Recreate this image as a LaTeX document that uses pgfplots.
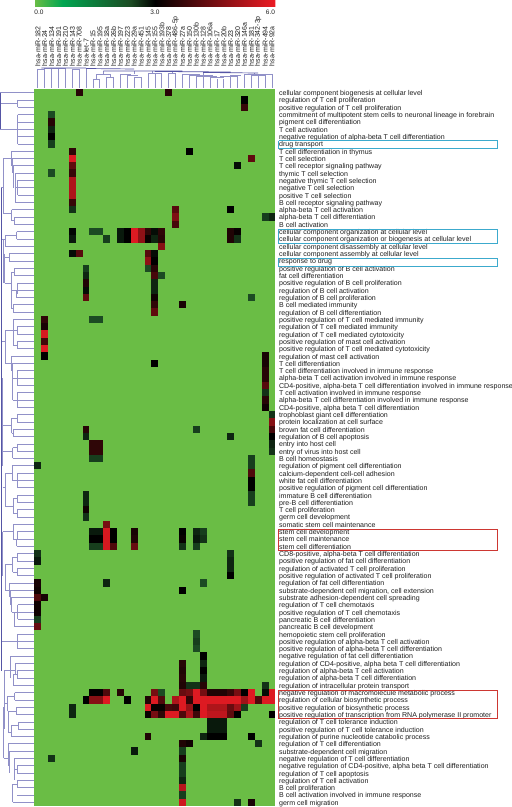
\documentclass[border=0pt]{standalone}
\usepackage{fontspec}
\setmainfont{Liberation Sans}
\usepackage{pgfplots}
\pgfplotsset{compat=1.18}
\definecolor{hmgreen}{RGB}{106,189,69}
\definecolor{dendl}{RGB}{145,145,200}
\definecolor{dendd}{RGB}{85,85,165}
\definecolor{boxc}{RGB}{60,170,205}
\definecolor{boxr}{RGB}{205,55,50}
\definecolor{txt}{RGB}{30,30,30}
\pgfdeclareplotmark{cell}{\pgfpathrectangle{\pgfpoint{-3.443pt}{-3.658pt}}{\pgfpoint{6.886pt}{7.316pt}}\pgfusepathqfill}
\begin{document}
\begin{tikzpicture}[x=1pt,y=1pt]
\useasboundingbox (0,0) rectangle (512,807);
% left dendrogram (x in px, y in rows)
\begin{axis}[at={(0pt,1pt)},anchor=south west,scale only axis,width=34.4pt,height=717pt,
  xmin=0,xmax=34.4,ymin=0.5,ymax=98.5,y dir=reverse,hide axis,clip=false,unbounded coords=jump]
\addplot[dendl,line width=0.7pt] coordinates {
(0,1)(34.4,1)(0,nan)
(17.5,2)(34.4,2)(0,nan)(17.5,3)(34.4,3)(0,nan)(17.5,2)(17.5,3)(0,nan)(0,2.5)(17.5,2.5)(0,nan)
(17.5,4)(34.4,4)(0,nan)(17.5,5)(34.4,5)(0,nan)(17.5,6)(34.4,6)(0,nan)(17.5,7)(34.4,7)(0,nan)(17.5,8)(34.4,8)(0,nan)(17.5,4)(17.5,8)(0,nan)(0,6)(17.5,6)(0,nan)
(11.7,9)(34.4,9)(0,nan)(11.7,9)(11.7,11)(0,nan)(3.3,10)(11.7,10)(0,nan)(12.3,10)(34.4,10)(0,nan)(12.3,10)(12.3,12)(0,nan)(13,11)(34.4,11)(0,nan)(13,11)(13,14)(0,nan)
(15.3,12)(34.4,12)(0,nan)(15.3,12)(15.3,16)(0,nan)(17.5,13)(34.4,13)(0,nan)(17.5,14)(34.4,14)(0,nan)(17.5,15)(34.4,15)(0,nan)(17.5,13)(17.5,15)(0,nan)(15.3,14)(17.5,14)(0,nan)(15.3,16)(34.4,16)(0,nan)
(3.3,10)(3.3,17.5)(0,nan)(3.3,17.5)(11.7,17.5)(0,nan)(11.7,17)(34.4,17)(0,nan)(11.7,17)(11.7,18.5)(0,nan)(14.3,18)(34.4,18)(0,nan)(14.3,19)(34.4,19)(0,nan)(14.3,18)(14.3,19)(0,nan)(11.7,18.5)(14.3,18.5)(0,nan)
(1,14)(3.3,14)(0,nan)
(16.7,20)(34.4,20)(0,nan)(16.7,21)(34.4,21)(0,nan)(16.7,20)(16.7,21)(0,nan)(5,20.5)(16.7,20.5)(0,nan)(5,20.5)(5,22)(0,nan)(5,22)(34.4,22)(0,nan)(1.7,21)(5,21)(0,nan)
(9.3,23)(34.4,23)(0,nan)(9.3,24)(34.4,24)(0,nan)(9.3,23)(9.3,24)(0,nan)(3.3,23.5)(9.3,23.5)(0,nan)(3.3,21)(3.3,27)(0,nan)
(14,25)(34.4,25)(0,nan)(14,26)(34.4,26)(0,nan)(14,25)(14,26)(0,nan)(11,25.5)(14,25.5)(0,nan)
(17.3,27)(34.4,27)(0,nan)(16,28)(34.4,28)(0,nan)(16,29)(34.4,29)(0,nan)(16,28)(16,29)(0,nan)(17,27)(17,28.5)(0,nan)(11,28)(17,28)(0,nan)(11,25.5)(11,30.5)(0,nan)(4.7,27)(11,27)(0,nan)(4.7,23)(4.7,27)(0,nan)
(13.3,30)(34.4,30)(0,nan)(13.3,31)(34.4,31)(0,nan)(13.3,30)(13.3,31)(0,nan)(11,30.5)(13.3,30.5)(0,nan)
(13.3,32)(34.4,32)(0,nan)(13.3,32)(13.3,35.5)(0,nan)(17.3,33)(34.4,33)(0,nan)(17.3,34)(34.4,34)(0,nan)(17.3,33)(17.3,34)(0,nan)(13.3,33.5)(17.3,33.5)(0,nan)(17.3,35)(34.4,35)(0,nan)(17.3,36)(34.4,36)(0,nan)(17.3,35)(17.3,36)(0,nan)(13.3,35.5)(17.3,35.5)(0,nan)(5,33.5)(13.3,33.5)(0,nan)(5,33.5)(5,38)(0,nan)(1.7,35)(5,35)(0,nan)
(11.7,37)(34.4,37)(0,nan)(11.7,37)(11.7,39)(0,nan)(12.7,38)(34.4,38)(0,nan)(12.7,38)(12.7,43)(0,nan)(17.3,39)(34.4,39)(0,nan)(17.3,40)(34.4,40)(0,nan)(17.3,41)(34.4,41)(0,nan)(17.3,39)(17.3,41)(0,nan)(12.7,40)(17.3,40)(0,nan)(17.3,42)(34.4,42)(0,nan)(17.3,43)(34.4,43)(0,nan)(17.3,44)(34.4,44)(0,nan)(17.3,42)(17.3,44)(0,nan)(12.7,43)(17.3,43)(0,nan)(5,38)(11.7,38)(0,nan)
(17.3,45)(34.4,45)(0,nan)(17.3,46)(34.4,46)(0,nan)(17.3,45)(17.3,46)(0,nan)(11.7,45.5)(17.3,45.5)(0,nan)(11.7,45.5)(11.7,47.5)(0,nan)(13.3,47)(34.4,47)(0,nan)(13.3,48)(34.4,48)(0,nan)(13.3,47)(13.3,48)(0,nan)(11.7,47.5)(13.3,47.5)(0,nan)(2.7,46.5)(11.7,46.5)(0,nan)(2.7,40)(2.7,52)(0,nan)
(17.3,49)(34.4,49)(0,nan)(17.3,50)(34.4,50)(0,nan)(17.3,49)(17.3,50)(0,nan)(12.7,49.5)(17.3,49.5)(0,nan)(12.7,49.5)(12.7,51)(0,nan)(12.7,51)(34.4,51)(0,nan)(3.3,50)(12.7,50)(0,nan)
(12,52)(34.4,52)(0,nan)(12,52)(12,54)(0,nan)(17.3,53)(34.4,53)(0,nan)(17.3,54)(34.4,54)(0,nan)(17.3,55)(34.4,55)(0,nan)(17.3,53)(17.3,55)(0,nan)(12,54)(17.3,54)(0,nan)(5,53)(12,53)(0,nan)(5,53)(5,57.5)(0,nan)
(17.3,56)(34.4,56)(0,nan)(17.3,57)(34.4,57)(0,nan)(17.3,56)(17.3,57)(0,nan)(13.3,56.5)(17.3,56.5)(0,nan)(17.3,58)(34.4,58)(0,nan)(17.3,59)(34.4,59)(0,nan)(17.3,58)(17.3,59)(0,nan)(13.3,58.5)(17.3,58.5)(0,nan)(13.3,56.5)(13.3,58.5)(0,nan)(5,57.5)(13.3,57.5)(0,nan)(2.7,55)(5,55)(0,nan)
(13.3,60)(34.4,60)(0,nan)(13.3,60)(13.3,62)(0,nan)(17.3,61)(34.4,61)(0,nan)(17.3,62)(34.4,62)(0,nan)(16.7,63)(34.4,63)(0,nan)(17.3,61)(17.3,62)(0,nan)(16,62)(16,63)(0,nan)(13.3,62)(16,62)(0,nan)(2.7,61)(13.3,61)(0,nan)(2.7,61)(2.7,67)(0,nan)
(17.3,64)(34.4,64)(0,nan)(17.3,65)(34.4,65)(0,nan)(17.3,64)(17.3,65)(0,nan)(12.7,64.5)(17.3,64.5)(0,nan)(17.3,66)(34.4,66)(0,nan)(17.3,67)(34.4,67)(0,nan)(17.3,66)(17.3,67)(0,nan)(12.7,66.5)(17.3,66.5)(0,nan)(12.7,64.5)(12.7,66.5)(0,nan)(5,65.5)(12.7,65.5)(0,nan)(5,65.5)(5,69)(0,nan)
(9.3,68)(34.4,68)(0,nan)(10.3,69)(34.4,69)(0,nan)(11.7,70)(34.4,70)(0,nan)(9.3,68)(9.3,70)(0,nan)(10.3,69)(10.3,71)(0,nan)(11.7,70)(11.7,72)(0,nan)(5,69)(9.3,69)(0,nan)
(17.7,71)(34.4,71)(0,nan)(17.7,72)(34.4,72)(0,nan)(17.7,73)(34.4,73)(0,nan)(17.7,71)(17.7,73)(0,nan)(14.3,74)(34.4,74)(0,nan)(14.3,72)(14.3,74)(0,nan)(11.7,72)(17.7,72)(0,nan)
(17.3,75)(34.4,75)(0,nan)(17.3,76)(34.4,76)(0,nan)(17.3,77)(34.4,77)(0,nan)(17.3,75)(17.3,77)(0,nan)(1.7,76)(17.3,76)(0,nan)(1.7,70)(1.7,79)(0,nan)
(10,78)(34.4,78)(0,nan)(10,78)(10,81)(0,nan)(15,79)(34.4,79)(0,nan)(15,79)(15,80.5)(0,nan)(17.3,80)(34.4,80)(0,nan)(17.3,81)(34.4,81)(0,nan)(17.3,80)(17.3,81)(0,nan)(13.3,80.5)(17.3,80.5)(0,nan)(13.3,80.5)(13.3,82)(0,nan)(13.3,82)(34.4,82)(0,nan)(10,80)(15,80)(0,nan)(4.3,80)(10,80)(0,nan)(4.3,80)(4.3,88)(0,nan)
(14.5,83)(34.4,83)(0,nan)(14.5,84)(34.4,84)(0,nan)(14.5,83)(14.5,84)(0,nan)(7.7,83.5)(14.5,83.5)(0,nan)(16,85)(34.4,85)(0,nan)(16,86)(34.4,86)(0,nan)(16,85)(16,86)(0,nan)(7.7,85.5)(16,85.5)(0,nan)(7.7,83.5)(7.7,85.5)(0,nan)(4.3,84.5)(7.7,84.5)(0,nan)
(18,87)(34.4,87)(0,nan)(18,88)(34.4,88)(0,nan)(18,87)(18,88)(0,nan)(11.3,87.5)(18,87.5)(0,nan)(11.3,87.5)(11.3,89)(0,nan)(11.3,89)(34.4,89)(0,nan)(8,88.5)(11.3,88.5)(0,nan)(8,85.5)(8,88.5)(0,nan)
(8.3,90)(34.4,90)(0,nan)(8.3,90)(8.3,93)(0,nan)(9.7,91)(34.4,91)(0,nan)(9.7,91)(9.7,94)(0,nan)(14.3,92)(34.4,92)(0,nan)(14.3,92)(14.3,95)(0,nan)(17.3,93)(34.4,93)(0,nan)(17.3,94)(34.4,94)(0,nan)(17.3,93)(17.3,94)(0,nan)(17.3,95)(34.4,95)(0,nan)(17.3,96)(34.4,96)(0,nan)(17.3,95)(17.3,96)(0,nan)(14.3,93.5)(17.3,93.5)(0,nan)(12.7,95.5)(17.3,95.5)(0,nan)(17,97)(34.4,97)(0,nan)(12.7,98)(34.4,98)(0,nan)(12.7,95.5)(12.7,98)(0,nan)(3.7,92)(8.3,92)(0,nan)(3.7,85)(3.7,92)(0,nan)
};
\addplot[dendd,line width=0.8pt] coordinates {
(0.8,1)(0.8,6)(0,nan)(1,14)(1,45)(0,nan)(1.3,45)(1.3,70)(0,nan)(1.7,60)(1.7,80)(0,nan)
};
\end{axis}
% top dendrogram (x in columns, y in px)
\begin{axis}[at={(34.4pt,718.5pt)},anchor=south west,scale only axis,width=241pt,height=28.5pt,
  xmin=-0.5,xmax=34.5,ymin=60,ymax=88.5,y dir=reverse,hide axis,clip=false,unbounded coords=jump]
\addplot[dendl,line width=0.7pt] coordinates {
(0,69)(0,88.5)(0,nan)(1,68)(1,88.5)(0,nan)(2,68)(2,88.5)(0,nan)(3,68)(3,88.5)(0,nan)(4,68)(4,88.5)(0,nan)(5,69.5)(5,88.5)(0,nan)(6,69.5)(6,88.5)(0,nan)(7,68)(7,88.5)(0,nan)
(8,79)(8,88.5)(0,nan)(9,79)(9,88.5)(0,nan)(10,77)(10,88.5)(0,nan)(11,77)(11,88.5)(0,nan)(12,74.5)(12,88.5)(0,nan)(13,75.5)(13,88.5)(0,nan)(14,77)(14,88.5)(0,nan)(15,77.5)(15,88.5)(0,nan)
(16,73.5)(16,88.5)(0,nan)(17,73.5)(17,88.5)(0,nan)(18,74.5)(18,88.5)(0,nan)(19,73.5)(19,88.5)(0,nan)(20,73.5)(20,88.5)(0,nan)(21,74)(21,88.5)(0,nan)(22,75)(22,88.5)(0,nan)(23,76)(23,88.5)(0,nan)
(24,76.7)(24,88.5)(0,nan)(25,77.5)(25,88.5)(0,nan)(26,79)(26,88.5)(0,nan)(27,79)(27,88.5)(0,nan)(28,75.5)(28,88.5)(0,nan)(29,76.7)(29,88.5)(0,nan)(30,74)(30,88.5)(0,nan)(31,75)(31,88.5)(0,nan)(32,74)(32,88.5)(0,nan)(33,74)(33,88.5)(0,nan)(34,74)(34,88.5)(0,nan)
(0,69)(1,69)(0,nan)(1,68)(4,68)(0,nan)(5,69.5)(6,69.5)(0,nan)(8,79)(9,79)(0,nan)(8.5,79)(8.5,74)(0,nan)(10,77)(11,77)(0,nan)(10.5,77)(10.5,74)(0,nan)(8.5,74)(10.5,74)(0,nan)(9.5,74)(9.5,71)(0,nan)
(12,74.5)(13.5,74.5)(0,nan)(13,75.5)(14.5,75.5)(0,nan)(14,77)(15,77)(0,nan)(14,74.5)(14,71)(0,nan)(16,73.5)(18,73.5)(0,nan)(16.7,73.5)(16.7,71.5)(0,nan)(19,73.5)(20,73.5)(0,nan)(19.5,73.5)(19.5,71.5)(0,nan)
(21,74)(23.5,74)(0,nan)(22,75)(25.5,75)(0,nan)(23,76)(26,76)(0,nan)(25,77.5)(27,77.5)(0,nan)(28,75.5)(29.5,75.5)(0,nan)(26.5,76.5)(29,76.5)(0,nan)(30,74)(32,74)(0,nan)(31,75)(33,75)(0,nan)(32,74)(34,74)(0,nan)(31.5,74)(31.5,73)(0,nan)(24,75)(24,72.5)(0,nan)
};
\addplot[dendd,line width=0.7pt] coordinates {
(0.5,68)(7,68)(0,nan)(7,68.5)(14,69)(0,nan)(9.5,71)(14,71)(0,nan)(14,71)(21,71)(0,nan)(17,71.5)(28,72)(0,nan)(24,72.5)(32,73)(0,nan)
};
\end{axis}
% heat map
\begin{axis}[at={(34.4pt,1pt)},anchor=south west,scale only axis,width=241pt,height=717pt,
  xmin=-0.5,xmax=34.5,ymin=0.5,ymax=98.5,y dir=reverse,clip=false,
  axis line style={draw=none},major tick length=0pt,
  axis background/.style={fill=hmgreen},
  colormap={heat}{rgb255(0cm)=(106,189,69) rgb255(7cm)=(0,166,81) rgb255(24cm)=(28,75,35) rgb255(30cm)=(0,0,0) rgb255(60cm)=(237,28,36)},
  point meta min=0,point meta max=6,
  colorbar horizontal,
  colorbar style={at={(0,1.11506)},anchor=south west,scale only axis,width=241pt,height=6pt,
    xtick=\empty,ytick=\empty,axis line style={draw=none}},
  xtick={0,...,34},ytick={1,...,98},
  xticklabel pos=top,yticklabel pos=right,
  xticklabel shift=21.5pt,
  yticklabel shift=0pt,
  xticklabel style={rotate=90,anchor=west,font=\fontsize{7}{7}\selectfont,text=txt,inner sep=1pt},
  yticklabel style={anchor=west,font=\fontsize{7.05}{7}\selectfont,text=txt,inner sep=0pt,xshift=3.5pt,yshift=-1.2pt,text height=5pt,text depth=1.5pt},
  xticklabels={hsa-miR-182,hsa-miR-24,hsa-miR-134,hsa-miR-191,hsa-miR-210,hsa-miR-143,hsa-miR-708,hsa-let-7,hsa-miR-15,hsa-miR-195,hsa-miR-18a,hsa-miR-26b,hsa-miR-197,hsa-miR-223,hsa-miR-29a,hsa-miR-451,hsa-miR-145,hsa-miR-155,hsa-miR-193b,hsa-miR-378,hsa-miR-486-5p,hsa-miR-27a,hsa-miR-150,hsa-miR-130b,hsa-miR-128,hsa-miR-106a,hsa-miR-17,hsa-miR-20b,hsa-miR-23,hsa-miR-320,hsa-miR-146a,hsa-miR-181,hsa-miR-342-3p,hsa-miR-494,hsa-miR-92a},
  yticklabels={cellular component biogenesis at cellular level,
regulation of T cell proliferation,
positive regulation of T cell proliferation,
commitment of multipotent stem cells to neuronal lineage in forebrain,
pigment cell differentiation,
T cell activation,
negative regulation of alpha-beta T cell differentiation,
drug transport,
T cell differentiation in thymus,
T cell selection,
T cell receptor signaling pathway,
thymic T cell selection,
negative thymic T cell selection,
negative T cell selection,
positive T cell selection,
B cell receptor signaling pathway,
alpha-beta T cell activation,
alpha-beta T cell differentiation,
B cell activation,
cellular component organization at cellular level,
cellular component organization or biogenesis at cellular level,
cellular component disassembly at cellular level,
cellular component assembly at cellular level,
response to drug,
positive regulation of B cell activation,
fat cell differentiation,
positive regulation of B cell proliferation,
regulation of B cell activation,
regulation of B cell proliferation,
B cell mediated immunity,
regulation of B cell differentiation,
positive regulation of T cell mediated immunity,
regulation of T cell mediated immunity,
regulation of T cell mediated cytotoxicity,
positive regulation of mast cell activation,
positive regulation of T cell mediated cytotoxicity,
regulation of mast cell activation,
T cell differentiation,
T cell differentiation involved in immune response,
alpha-beta T cell activation involved in immune response,
{CD4-positive, alpha-beta T cell differentiation involved in immune response},
T cell activation involved in immune response,
alpha-beta T cell differentiation involved in immune response,
{CD4-positive, alpha beta T cell differentiation},
trophoblast giant cell differentiation,
protein localization at cell surface,
brown fat cell differentiation,
regulation of B cell apoptosis,
entry into host cell,
entry of virus into host cell,
B cell homeostasis,
regulation of pigment cell differentiation,
calcium-dependent cell-cell adhesion,
white fat cell differentiation,
positive regulation of pigment cell differentiation,
immature B cell differentiation,
pre-B cell differentiation,
T cell proliferation,
germ cell development,
somatic stem cell maintenance,
stem cell development,
stem cell maintenance,
stem cell differentiation,
{CD8-positive, alpha-beta T cell differentiation},
positive regulation of fat cell differentiation,
regulation of activated T cell proliferation,
positive regulation of activated T cell proliferation,
regulation of fat cell differentiation,
{substrate-dependent cell migration, cell extension},
substrate adhesion-dependent cell spreading,
regulation of T cell chemotaxis,
positive regulation of T cell chemotaxis,
pancreatic B cell differentiation,
pancreatic B cell development,
hemopoietic stem cell proliferation,
positive regulation of alpha-beta T cell activation,
positive regulation of alpha-beta T cell differentiation,
negative regulation of fat cell differentiation,
{regulation of CD4-positive, alpha beta T cell differentiation},
regulation of alpha-beta T cell activation,
regulation of alpha-beta T cell differentiation,
regulation of intracellular protein transport,
negative regulation of macromolecule metabolic process,
regulation of cellular biosynthetic process,
positive regulation of biosynthetic process,
positive regulation of transcription from RNA polymerase II promoter,
regulation of T cell tolerance induction,
positive regulation of T cell tolerance induction,
regulation of purine nucleotide catabolic process,
regulation of T cell differentiation,
substrate-dependent cell migration,
negative regulation of T cell differentiation,
{negative regulation of CD4-positive, alpha beta T cell differentiation},
regulation of T cell apoptosis,
regulation of T cell activation,
B cell proliferation,
B cell activation involved in immune response,
germ cell migration},
]
\addplot[scatter,only marks,mark=cell,scatter src=explicit] coordinates {
(6,1)[3.5] (19,1)[3.5] (30,2)[3.0] (30,3)[3.7]
(2,4)[2.4] (2,5)[3.5] (2,6)[2.7] (2,7)[3.0] (2,8)[2.5]
(5,9)[3.6] (5,10)[5.8] (5,11)[4.2] (5,12)[3.7] (5,13)[5.2] (5,14)[5.2] (5,15)[5.2] (5,16)[3.7] (5,17)[2.6]
(22,9)[3.0] (31,10)[4.2] (29,11)[2.9] (2,12)[2.4]
(20,17)[4.1] (20,18)[4.6] (20,19)[3.9] (28,17)[3.0] (33,18)[2.5] (34,18)[2.7]
(5,20)[2.95] (5,21)[2.8] (8,20)[2.4] (9,20)[2.4] (10,21)[2.5] (12,20)[2.8] (12,21)[2.8] (13,20)[3.0] (13,21)[3.0]
(14,20)[5.8] (14,21)[5.8] (15,20)[4.8] (15,21)[4.8] (16,20)[3.6] (16,21)[3.1] (17,20)[2.9] (17,21)[2.7] (18,20)[3.6] (18,21)[3.5] (18,22)[4.7]
(28,20)[3.4] (28,21)[3.4] (29,20)[3.1] (29,21)[2.6]
(5,23)[2.9] (6,23)[4.1] (16,23)[4.1] (16,24)[4.8] (17,23)[2.9] (17,24)[3.0]
(7,25)[2.5] (7,26)[2.7] (7,27)[3.4] (7,28)[2.9] (7,29)[4.2]
(16,25)[2.4] (17,25)[3.5] (17,26)[3.9] (17,27)[2.7] (17,28)[2.7] (17,29)[3.2] (17,30)[3.6] (17,31)[4.2] (18,26)[2.4]
(21,30)[3.3] (31,29)[2.4] (8,32)[2.4] (9,32)[2.4]
(1,32)[3.6] (1,33)[3.3] (1,34)[5.7] (1,35)[3.8] (1,36)[5.8] (1,37)[3.0] (17,38)[3.0]
(33,37)[3.3] (33,38)[3.3] (33,39)[3.5] (33,40)[3.5] (33,41)[4.1] (33,42)[2.6] (33,43)[3.5] (33,44)[3.2]
(34,45)[2.6] (34,46)[4.7] (34,47)[3.9] (34,48)[3.0] (34,49)[2.7] (34,50)[2.6]
(7,47)[3.5] (7,48)[2.7] (23,47)[2.5] (28,48)[2.7]
(8,49)[3.6] (9,49)[3.6] (8,50)[3.6] (9,50)[3.6] (8,51)[2.5] (9,51)[2.5] (0,52)[2.7]
(31,51)[2.5] (31,52)[2.5] (31,53)[4.0] (31,54)[3.0] (31,55)[3.0] (31,56)[2.5] (31,57)[2.5]
(7,56)[2.7] (7,57)[2.7] (7,58)[3.2] (7,59)[2.6]
(10,60)[4.5] (10,61)[5.7] (10,62)[5.7] (10,63)[5.7]
(8,61)[2.8] (9,61)[2.8] (8,62)[3.0] (9,62)[3.0] (8,63)[2.5] (9,63)[2.5]
(11,61)[3.0] (11,62)[3.0] (11,63)[4.0] (14,61)[3.3] (14,62)[3.4] (14,63)[4.3]
(21,61)[3.0] (21,62)[3.1] (21,63)[2.6] (23,61)[2.7] (23,62)[2.8] (23,63)[2.5] (24,61)[2.5] (24,62)[2.6]
(0,64)[2.6] (0,65)[2.8] (28,64)[2.6] (28,65)[2.7] (28,66)[2.7] (28,67)[3.0]
(0,68)[3.3] (0,69)[3.2] (0,70)[4.0] (0,71)[3.2] (0,72)[3.2] (0,73)[2.5] (0,74)[4.3] (1,70)[3.3]
(10,68)[2.7] (24,68)[2.4] (21,69)[3.0]
(23,75)[2.4] (23,76)[2.5] (23,77)[2.4]
(24,78)[3.0] (24,79)[2.7] (24,80)[3.0] (24,81)[2.8] (24,82)[3.5]
(21,79)[3.5] (21,80)[3.4] (21,81)[3.5] (21,82)[3.4] (22,82)[2.6] (23,82)[2.6] (33,82)[2.6] (33,83)[2.9]
(8,83)[3.0] (9,83)[3.0] (10,83)[4.0] (12,83)[3.5] (17,83)[4.5] (18,83)[2.4] (21,83)[4.3] (22,83)[4.5] (23,83)[5.8] (24,83)[4.5] (25,83)[3.4] (26,83)[3.4] (27,83)[3.4] (28,83)[3.7] (29,83)[4.5] (30,83)[3.0] (31,83)[5.8] (34,83)[5.8]
(7,84)[3.0] (8,84)[4.7] (9,84)[4.7] (10,84)[5.8] (13,84)[3.0] (16,84)[3.4] (17,84)[5.8] (18,84)[4.0] (20,84)[5.2] (21,84)[5.8] (22,84)[3.6] (23,84)[5.8] (24,84)[5.8] (25,84)[5.8] (26,84)[5.8] (27,84)[5.8] (28,84)[5.8] (29,84)[5.8] (30,84)[5.0] (31,84)[5.8] (32,84)[4.0] (33,84)[5.8] (34,84)[5.8]
(5,85)[2.7] (16,85)[5.8] (17,85)[3.1] (18,85)[3.1] (19,85)[3.9] (20,85)[3.8] (21,85)[5.8] (22,85)[4.9] (23,85)[3.0] (24,85)[5.8] (25,85)[5.2] (26,85)[5.2] (27,85)[5.2] (28,85)[4.3] (29,85)[5.0] (30,85)[2.5]
(5,86)[2.7] (16,86)[3.1] (17,86)[4.5] (18,86)[3.6] (19,86)[5.8] (20,86)[5.8] (21,86)[4.0] (22,86)[5.2] (23,86)[3.8] (24,86)[5.8] (25,86)[5.4] (26,86)[5.4] (27,86)[5.4] (28,86)[4.2] (29,86)[3.0] (34,86)[3.0]
(25,87)[2.8] (26,87)[2.8] (27,87)[2.8] (25,88)[2.8] (26,88)[2.8] (27,88)[2.8]
(16,89)[3.4] (24,89)[2.7] (25,89)[3.0] (26,89)[3.0] (27,89)[3.0] (31,89)[3.0]
(21,90)[3.4] (22,90)[3.2] (32,90)[2.6] (14,91)[2.8] (21,91)[2.5] (2,92)[2.6] (21,92)[3.3]
(21,93)[2.5] (21,94)[2.5] (21,95)[2.7] (21,96)[5.3] (21,97)[2.5] (21,98)[5.6] (29,98)[2.6] (31,98)[3.3]
};
\addplot[boxc,line width=0.9pt] coordinates {(35,7.57)(66.7,7.57)(66.7,8.6)(35,8.6)(35,7.57)};
\addplot[boxc,line width=0.9pt] coordinates {(35,19.64)(66.7,19.64)(66.7,21.55)(35,21.55)(35,19.64)};
\addplot[boxc,line width=0.9pt] coordinates {(35,23.64)(66.7,23.64)(66.7,24.7)(35,24.7)(35,23.64)};
\addplot[boxr,line width=0.9pt] coordinates {(35,60.64)(66.7,60.64)(66.7,63.55)(35,63.55)(35,60.64)};
\addplot[boxr,line width=0.9pt] coordinates {(35,82.7)(66.7,82.7)(66.7,86.6)(35,86.6)(35,82.7)};
\end{axis}
\node[font=\fontsize{6.5}{7}\selectfont,text=txt,inner sep=0pt] at (39,795) {0.0};
\node[font=\fontsize{6.5}{7}\selectfont,text=txt,inner sep=0pt] at (155,795) {3.0};
\node[font=\fontsize{6.5}{7}\selectfont,text=txt,inner sep=0pt] at (270.5,795) {6.0};
\end{tikzpicture}
\end{document}
